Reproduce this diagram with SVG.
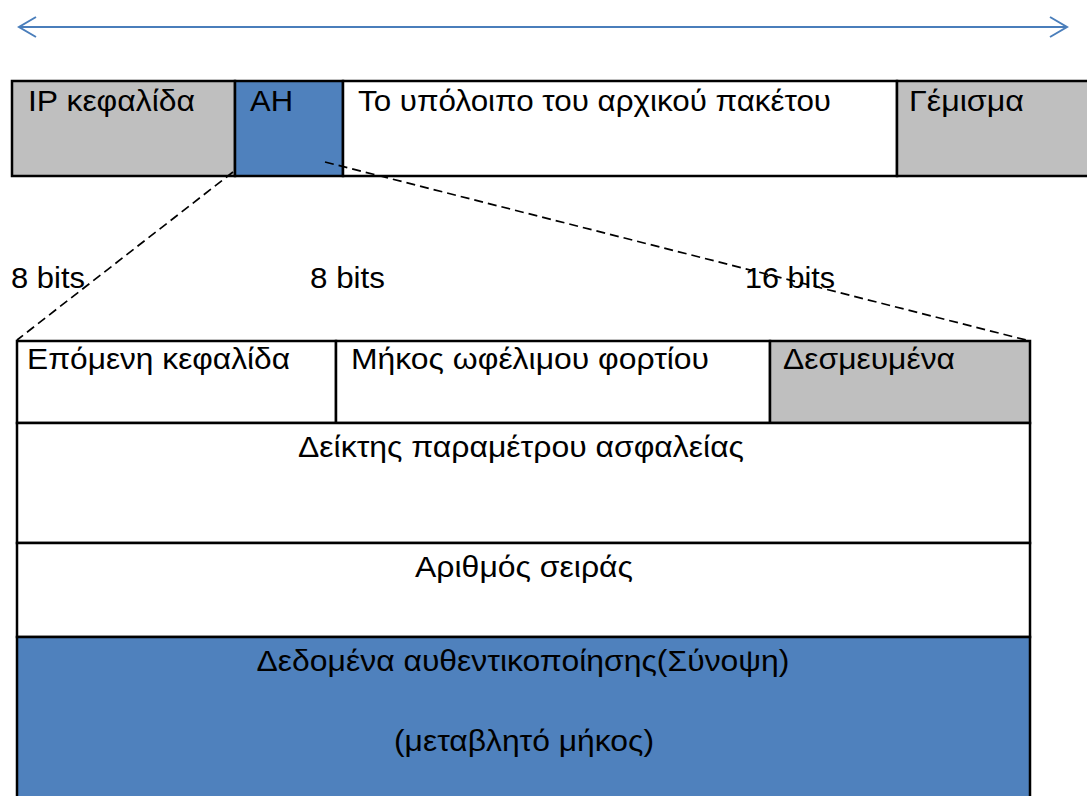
<svg xmlns="http://www.w3.org/2000/svg" width="1087" height="796" viewBox="0 0 1087 796">
  <style>
    .cell { stroke: #000; stroke-width: 2.5; }
    .grey { fill: #BFBFBF; }
    .blue { fill: #4F81BD; }
    .white { fill: #FFFFFF; }
    text { font-family: "Liberation Sans", Arial, sans-serif; font-size: 30px; fill: #000; }
    .mid { text-anchor: middle; }
    .dash { stroke: #000; stroke-width: 1.7; stroke-dasharray: 9 5; fill: none; }
    .span { stroke: #4A7EBB; stroke-width: 2; fill: none; }
  </style>
  <rect width="1087" height="796" fill="#FFFFFF"/>

  <!-- packet width span -->
  <g id="span-arrow">
    <line class="span" x1="19" y1="27" x2="1067" y2="27"/>
    <polyline class="span" points="36,17 19,27 36,37"/>
    <polyline class="span" points="1050,17 1067,27 1050,37"/>
  </g>

  <!-- outer packet -->
  <g id="ip-header">
    <rect class="cell grey" x="12" y="81" width="223" height="95"/>
    <text x="28" y="111" textLength="167" lengthAdjust="spacingAndGlyphs">IP κεφαλίδα</text>
  </g>
  <g id="ah">
    <rect class="cell blue" x="235" y="81" width="108" height="95"/>
    <text x="250" y="111" textLength="43" lengthAdjust="spacingAndGlyphs">AH</text>
  </g>
  <g id="rest">
    <rect class="cell white" x="343" y="81" width="554" height="95"/>
    <text x="358" y="111" textLength="473" lengthAdjust="spacingAndGlyphs">Το υπόλοιπο του αρχικού πακέτου</text>
  </g>
  <g id="padding">
    <rect class="cell grey" x="897" y="81" width="200" height="95"/>
    <text x="909" y="111" textLength="115" lengthAdjust="spacingAndGlyphs">Γέμισμα</text>
  </g>

  <!-- field widths -->
  <g id="widths">
    <text x="11" y="288" textLength="74" lengthAdjust="spacingAndGlyphs">8 bits</text>
    <text x="310" y="288" textLength="75" lengthAdjust="spacingAndGlyphs">8 bits</text>
    <text x="745" y="288" textLength="90" lengthAdjust="spacingAndGlyphs">16 bits</text>
  </g>

  <!-- AH layout -->
  <g id="next-header">
    <rect class="cell white" x="17" y="341" width="319" height="82"/>
    <text x="27" y="369" textLength="263" lengthAdjust="spacingAndGlyphs">Επόμενη κεφαλίδα</text>
  </g>
  <g id="payload-length">
    <rect class="cell white" x="336" y="341" width="434" height="82"/>
    <text x="351" y="369" textLength="358" lengthAdjust="spacingAndGlyphs">Μήκος ωφέλιμου φορτίου</text>
  </g>
  <g id="reserved">
    <rect class="cell grey" x="770" y="341" width="260" height="82"/>
    <text x="783" y="369" textLength="172" lengthAdjust="spacingAndGlyphs">Δεσμευμένα</text>
  </g>
  <g id="spi">
    <rect class="cell white" x="17" y="423" width="1013" height="120"/>
    <text class="mid" x="521" y="457" textLength="446" lengthAdjust="spacingAndGlyphs">Δείκτης παραμέτρου ασφαλείας</text>
  </g>
  <g id="sequence">
    <rect class="cell white" x="17" y="543" width="1013" height="94"/>
    <text class="mid" x="524" y="577" textLength="218" lengthAdjust="spacingAndGlyphs">Αριθμός σειράς</text>
  </g>
  <g id="auth-data">
    <rect class="cell blue" x="17" y="637" width="1013" height="170"/>
    <text class="mid" x="523" y="671" textLength="533" lengthAdjust="spacingAndGlyphs">Δεδομένα αυθεντικοποίησης(Σύνοψη)</text>
    <text class="mid" x="524" y="751" textLength="260" lengthAdjust="spacingAndGlyphs">(μεταβλητό μήκος)</text>
  </g>

  <!-- expansion guides -->
  <g id="connectors">
    <line class="dash" x1="233" y1="172" x2="17" y2="340"/>
    <line class="dash" x1="325" y1="162" x2="1030" y2="341"/>
  </g>
</svg>
